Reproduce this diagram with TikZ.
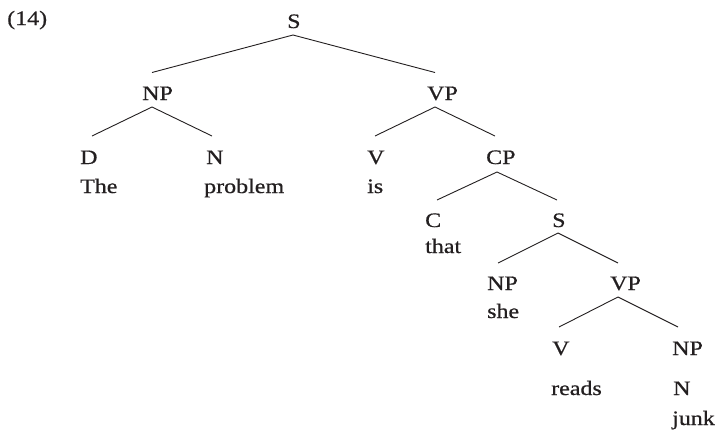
\documentclass[tikz,border=0pt]{standalone}
\usepackage{fontspec}
\setmainfont[FakeStretch=1.17,FakeBold=0.6]{Liberation Serif}
\definecolor{ink}{RGB}{35,31,32}
\begin{document}
\begin{tikzpicture}[x=1pt,y=-1pt,
  lab/.style={inner sep=0pt, anchor=base west, text=ink, font=\fontsize{20.5}{20.5}\selectfont},
  edge/.style={draw=ink, line width=0.9pt}]
\useasboundingbox[fill=white] (0,0) rectangle (718,442);
% example number
\node[lab] (ex) at (7,25) {(14)};
% categories
\node[lab] (S0) at (287,28) {S};
\node[lab] (NP1) at (142,100) {NP};
\node[lab] (VP1) at (427,100) {VP};
\node[lab] (D) at (80,164) {D};
\node[lab] (N1) at (206,164) {N};
\node[lab] (V1) at (367,164) {V};
\node[lab] (CP) at (486,164) {CP};
\node[lab] (C) at (425,227) {C};
\node[lab] (S2) at (552,227) {S};
\node[lab] (NP2) at (487,290) {NP};
\node[lab] (VP2) at (610,290) {VP};
\node[lab] (V2) at (552,355) {V};
\node[lab] (NP3) at (672,355) {NP};
\node[lab] (N3) at (673,395) {N};
% words
\node[lab] (wThe) at (80,193) {The};
\node[lab] (wproblem) at (204,193) {problem};
\node[lab] (wis) at (367,193) {is};
\node[lab] (wthat) at (425,253) {that};
\node[lab] (wshe) at (487,318) {she};
\node[lab] (wreads) at (551,395) {reads};
\node[lab] (wjunk) at (672,425) {junk};
% branches
\draw[edge] ([xshift=6pt,yshift=-7pt]S0.base west) -- ([xshift=10pt,yshift=27.5pt]NP1.base west);
\draw[edge] ([xshift=6pt,yshift=-7pt]S0.base west) -- ([xshift=8pt,yshift=27.5pt]VP1.base west);
\draw[edge] ([xshift=10pt,yshift=-7pt]NP1.base west) -- ([xshift=12pt,yshift=28pt]D.base west);
\draw[edge] ([xshift=10pt,yshift=-7pt]NP1.base west) -- ([xshift=6pt,yshift=28pt]N1.base west);
\draw[edge] ([xshift=8pt,yshift=-7pt]VP1.base west) -- ([xshift=8pt,yshift=28pt]V1.base west);
\draw[edge] ([xshift=8pt,yshift=-7pt]VP1.base west) -- ([xshift=9pt,yshift=28pt]CP.base west);
\draw[edge] ([xshift=11pt,yshift=-8pt]CP.base west) -- ([xshift=12pt,yshift=27pt]C.base west);
\draw[edge] ([xshift=11pt,yshift=-8pt]CP.base west) -- ([xshift=5pt,yshift=27pt]S2.base west);
\draw[edge] ([xshift=6pt,yshift=-6pt]S2.base west) -- ([xshift=11pt,yshift=27pt]NP2.base west);
\draw[edge] ([xshift=6pt,yshift=-6pt]S2.base west) -- ([xshift=8pt,yshift=27pt]VP2.base west);
\draw[edge] ([xshift=8pt,yshift=-7pt]VP2.base west) -- ([xshift=7pt,yshift=28pt]V2.base west);
\draw[edge] ([xshift=8pt,yshift=-7pt]VP2.base west) -- ([xshift=6pt,yshift=28pt]NP3.base west);
\end{tikzpicture}
\end{document}
